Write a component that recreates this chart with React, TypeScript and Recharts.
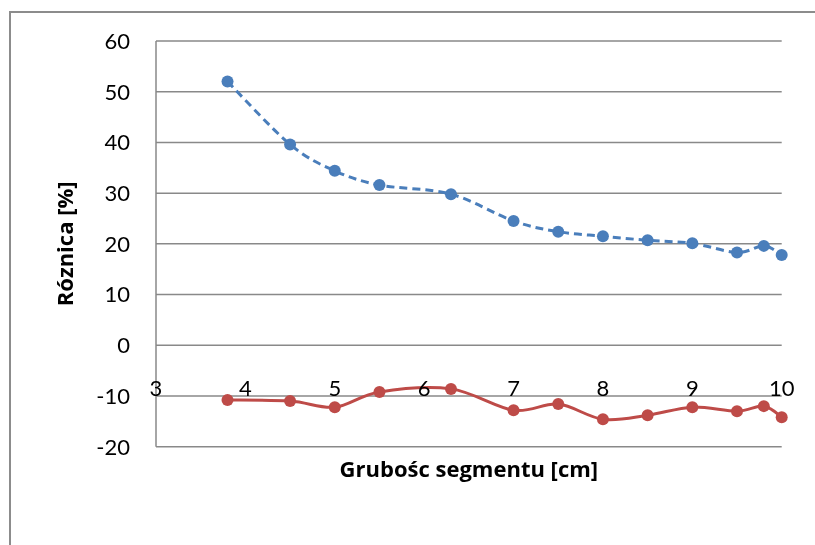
import React from "react";
import { LineChart, Line, XAxis, YAxis, CartesianGrid, Label } from "recharts";

const thickness = [3.8, 4.5, 5, 5.5, 6.3, 7, 7.5, 8, 8.5, 9, 9.5, 9.8, 10];
const seriesBlue = [52.0, 39.6, 34.4, 31.6, 29.8, 24.5, 22.4, 21.5, 20.7, 20.1, 18.3, 19.6, 17.8];
const seriesRed = [-10.8, -11.0, -12.2, -9.2, -8.6, -12.8, -11.6, -14.6, -13.8, -12.2, -13.0, -12.0, -14.2];
const xTicks = [3, 4, 5, 6, 7, 8, 9, 10];
const yTicks = [-20, -10, 0, 10, 20, 30, 40, 50, 60];
const xTitle = "Grubośc segmentu [cm]";
const yTitle = "Róznica [%]";

const data = thickness.map((x, i) => ({ x, blue: seriesBlue[i], red: seriesRed[i] }));

const FONT = "Lato, 'Noto Sans', sans-serif";
const TITLE_FONT = "'Open Sans', Lato, sans-serif";
const GRID = "#898989";

// Excel-like smoothed line (Catmull-Rom through points)
function smoothCurve(context: any) {
  let pts: number[][] = [];
  return {
    areaStart() {},
    areaEnd() {},
    lineStart() {
      pts = [];
    },
    lineEnd() {
      const n = pts.length;
      if (!n) return;
      context.moveTo(pts[0][0], pts[0][1]);
      for (let i = 0; i < n - 1; i++) {
        const p0 = pts[i - 1] || pts[i];
        const p1 = pts[i];
        const p2 = pts[i + 1];
        const p3 = pts[i + 2] || p2;
        context.bezierCurveTo(
          p1[0] + (p2[0] - p0[0]) / 6,
          p1[1] + (p2[1] - p0[1]) / 6,
          p2[0] - (p3[0] - p1[0]) / 6,
          p2[1] - (p3[1] - p1[1]) / 6,
          p2[0],
          p2[1]
        );
      }
    },
    point(x: number, y: number) {
      pts.push([+x, +y]);
    },
  };
}

const XTick = (props: any) => {
  const { x, y, payload } = props;
  return (
    <text x={x} y={y} dy={-51} textAnchor="middle" fontFamily={FONT} fontSize={22} fill="#000">
      {payload.value}
    </text>
  );
};

const YTitle = (props: any) => {
  const vb = props.viewBox || {};
  const cx = vb.x + 65;
  const cy = vb.y + vb.height / 2;
  return (
    <text
      x={cx}
      y={cy}
      transform={`rotate(-90, ${cx}, ${cy})`}
      textAnchor="middle"
      fontFamily={TITLE_FONT}
      fontSize={22}
      fontWeight="bold"
      fill="#000"
    >
      {yTitle}
    </text>
  );
};

const XTitle = (props: any) => {
  const vb = props.viewBox || {};
  return (
    <text
      x={vb.x + vb.width / 2}
      y={vb.y + 30}
      textAnchor="middle"
      fontFamily={TITLE_FONT}
      fontSize={22}
      fontWeight="bold"
      fill="#000"
    >
      {xTitle}
    </text>
  );
};

export default function App() {
  return (
    <div style={{ position: "relative", width: 799, height: 529 }}>
      <div
        style={{
          position: "fixed",
          left: 8.5,
          top: 10.5,
          width: 1200,
          height: 1200,
          borderLeft: "2px solid #8c8c8c",
          borderTop: "2px solid #8c8c8c",
          pointerEvents: "none",
        }}
      />
      <LineChart
        width={799}
        height={529}
        data={data}
        margin={{ top: 33, right: 25.3, left: 0, bottom: 60.3 }}
      >
        <CartesianGrid vertical={false} stroke={GRID} strokeWidth={1.5} />
        <XAxis
          dataKey="x"
          type="number"
          domain={[3, 10]}
          ticks={xTicks}
          interval={0}
          height={30}
          axisLine={false}
          tickLine={false}
          tickSize={0}
          tickMargin={0}
          tick={<XTick />}
        >
          <Label content={<XTitle />} />
        </XAxis>
        <YAxis
          type="number"
          domain={[-20, 60]}
          ticks={yTicks}
          interval={0}
          width={148}
          axisLine={{ stroke: GRID, strokeWidth: 1.5 }}
          tickLine={false}
          tickSize={0}
          tickMargin={26}
          tick={{ fontFamily: FONT, fontSize: 22, fill: "#000" }}
        >
          <Label content={<YTitle />} />
        </YAxis>
        <Line
          dataKey="blue"
          type={smoothCurve as any}
          stroke="#4A7EBB"
          strokeWidth={3}
          strokeDasharray="8 5"
          dot={{ r: 6, fill: "#4A7EBB", stroke: "none" }}
          activeDot={false}
          isAnimationActive={false}
        />
        <Line
          dataKey="red"
          type={smoothCurve as any}
          stroke="#BE4B48"
          strokeWidth={3}
          dot={{ r: 6, fill: "#BE4B48", stroke: "none" }}
          activeDot={false}
          isAnimationActive={false}
        />
      </LineChart>
    </div>
  );
}
